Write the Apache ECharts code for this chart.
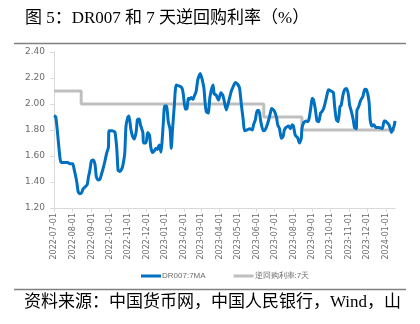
<!DOCTYPE html>
<html><head><meta charset="utf-8">
<script src="https://cdn.jsdelivr.net/npm/echarts@6/dist/echarts.min.js"></script>
<style>html,body{margin:0;padding:0;background:#fff}#c{width:420px;height:324px}</style>
</head><body><div id="c"></div>
<script>
const titleText = '图 5：DR007 和 7 天逆回购利率（%）';
const sourceText = '资料来源：中国货币网，中国人民银行，Wind，山';
const seriesNames = ['DR007:7MA', '逆回购利率:7天'];
const startDate = '2022-07-01';
const endDate = '2024-01-16';
const yTicks = [1.20, 1.40, 1.60, 1.80, 2.00, 2.20, 2.40];

const drDates = ['2022-07-01','2022-07-04','2022-07-08','2022-07-11','2022-07-13','2022-07-16','2022-07-22','2022-07-24','2022-07-27','2022-08-01',
'2022-08-03','2022-08-06','2022-08-08','2022-08-10','2022-08-13','2022-08-16','2022-08-18','2022-08-21','2022-08-25','2022-08-27',
'2022-08-29','2022-09-01','2022-09-04','2022-09-07','2022-09-09','2022-09-12','2022-09-15','2022-09-18','2022-09-20','2022-09-23',
'2022-09-26','2022-09-29','2022-09-30','2022-10-04','2022-10-08','2022-10-10','2022-10-13','2022-10-15','2022-10-18','2022-10-21',
'2022-10-23','2022-10-26','2022-10-28','2022-10-31','2022-11-02','2022-11-05','2022-11-08','2022-11-11','2022-11-14','2022-11-16',
'2022-11-19','2022-11-21','2022-11-25','2022-11-26','2022-11-30','2022-12-03','2022-12-06','2022-12-08','2022-12-11','2022-12-14',
'2022-12-17','2022-12-19','2022-12-22','2022-12-25','2022-12-27','2022-12-29','2022-12-31','2023-01-03','2023-01-06','2023-01-09',
'2023-01-11','2023-01-13','2023-01-16','2023-01-19','2023-01-23','2023-01-26','2023-01-29','2023-01-31','2023-02-03','2023-02-06',
'2023-02-08','2023-02-10','2023-02-13','2023-02-16','2023-02-18','2023-02-21','2023-02-24','2023-02-28','2023-03-03','2023-03-06',
'2023-03-08','2023-03-10','2023-03-13','2023-03-16','2023-03-21','2023-03-23','2023-03-26','2023-03-30','2023-04-03','2023-04-06',
'2023-04-08','2023-04-12','2023-04-16','2023-04-20','2023-04-23','2023-04-27','2023-05-01','2023-05-04','2023-05-07','2023-05-10',
'2023-05-12','2023-05-16','2023-05-21','2023-05-25','2023-05-27','2023-05-30','2023-06-02','2023-06-05','2023-06-08','2023-06-12',
'2023-06-15','2023-06-18','2023-06-21','2023-06-24','2023-06-26','2023-06-30','2023-07-04','2023-07-06','2023-07-09','2023-07-12',
'2023-07-15','2023-07-17','2023-07-20','2023-07-24','2023-07-27','2023-07-30','2023-08-01','2023-08-04','2023-08-08','2023-08-11',
'2023-08-14','2023-08-15','2023-08-18','2023-08-22','2023-08-25','2023-08-27','2023-08-30','2023-09-01','2023-09-03','2023-09-06',
'2023-09-09','2023-09-12','2023-09-15','2023-09-17','2023-09-20','2023-09-23','2023-09-26','2023-09-28','2023-10-02','2023-10-06',
'2023-10-08','2023-10-11','2023-10-14','2023-10-17','2023-10-19','2023-10-22','2023-10-25','2023-10-28','2023-10-31','2023-11-02',
'2023-11-05','2023-11-08','2023-11-10','2023-11-13','2023-11-14','2023-11-17','2023-11-20','2023-11-24','2023-11-27','2023-11-30',
'2023-12-04','2023-12-06','2023-12-09','2023-12-12','2023-12-15','2023-12-18','2023-12-20','2023-12-26','2023-12-29','2023-12-31',
'2024-01-03','2024-01-06','2024-01-09','2024-01-10','2024-01-12','2024-01-15','2024-01-16'];
const drValues = [1.91,1.90,1.72,1.58,1.55,1.55,1.55,1.55,1.54,1.54,
1.505,1.44,1.39,1.325,1.31,1.32,1.346,1.36,1.38,1.44,
1.48,1.564,1.57,1.53,1.44,1.415,1.42,1.467,1.50,1.556,
1.62,1.667,1.795,1.795,1.79,1.78,1.646,1.49,1.48,1.50,
1.53,1.62,1.825,1.897,1.908,1.81,1.75,1.73,1.79,1.88,
1.885,1.84,1.78,1.70,1.70,1.78,1.76,1.67,1.627,1.64,
1.66,1.65,1.685,1.63,1.728,1.87,1.985,1.985,1.864,1.805,
1.66,1.80,1.99,2.146,2.14,2.135,2.12,2.07,1.96,1.965,
2.044,2.035,2.05,2.035,2.06,2.095,2.19,2.235,2.19,2.12,
2.005,1.94,1.93,2.056,2.146,2.077,2.07,2.03,2.087,2.07,
2.035,1.954,2.02,2.095,2.13,2.165,2.15,2.12,1.99,1.877,
1.795,1.80,1.81,1.80,1.84,1.877,1.95,1.95,1.864,1.795,
1.80,1.83,1.877,1.933,1.965,1.95,1.897,1.84,1.81,1.736,
1.75,1.80,1.82,1.83,1.81,1.84,1.83,1.76,1.74,1.70,
1.736,1.81,1.856,1.87,1.864,1.89,1.98,2.044,2.035,1.967,
1.87,1.864,1.933,1.94,1.965,2.018,2.08,2.11,2.10,2.09,
1.99,1.88,1.864,1.98,1.99,2.07,2.113,2.12,2.07,1.99,
1.94,1.877,1.82,1.81,1.95,1.98,2.026,2.06,2.113,2.11,
2.02,1.877,1.83,1.84,1.82,1.82,1.82,1.81,1.87,1.87,
1.856,1.84,1.80,1.78,1.80,1.84,1.87];

const rrDates = ['2022-07-01','2022-08-15','2023-06-13','2023-08-15','2024-01-16'];
const rrValues = [2.10, 2.00, 1.90, 1.80, 1.80];

// daily category axis
const categories = [];
{
  let d = new Date(startDate + 'T00:00:00Z');
  const e = new Date(endDate + 'T00:00:00Z');
  while (d <= e) { categories.push(d.toISOString().slice(0, 10)); d = new Date(d.getTime() + 86400000); }
}
const isMonthStart = (i, v) => String(v).endsWith('-01');

const chart = echarts.init(document.getElementById('c'), null, {renderer: 'canvas'});
const gray = '#6b6b6b';
chart.setOption({
  animation: false,
  backgroundColor: '#fff',
  grid: {left: 54, right: 25, top: 52, bottom: 116, containLabel: false},
  xAxis: {
    type: 'category', data: categories, boundaryGap: false,
    axisLine: {lineStyle: {color: '#D9D9D9', width: 1}},
    axisTick: {show: true, interval: isMonthStart, length: 4, lineStyle: {color: '#D9D9D9'}},
    axisLabel: {interval: isMonthStart, rotate: 90, fontSize: 8, color: gray, margin: 5, fontFamily: 'DejaVu Sans'},
    splitLine: {show: false}
  },
  yAxis: {
    type: 'value', min: yTicks[0], max: yTicks[yTicks.length - 1], interval: 0.2,
    axisLine: {show: true, lineStyle: {color: '#D9D9D9'}},
    axisTick: {show: true, length: 4, lineStyle: {color: '#D9D9D9'}},
    axisLabel: {formatter: v => v.toFixed(2), fontSize: 9, color: gray, margin: 9, fontFamily: 'DejaVu Sans'},
    splitLine: {show: false}
  },
  legend: {
    left: 136, top: 267, itemWidth: 20, itemHeight: 3, itemGap: 28, icon: 'rect',
    textStyle: {fontSize: 8, color: gray, padding: [0, 0, 0, -4]},
    data: seriesNames
  },
  series: [
    {name: seriesNames[0], type: 'line', symbol: 'none', smooth: 0.2,
     data: drDates.map((d, i) => [d, drValues[i]]),
     lineStyle: {color: '#0070C0', width: 3}, itemStyle: {color: '#0070C0'}, z: 3},
    {name: seriesNames[1], type: 'line', symbol: 'none', step: 'end',
     data: rrDates.map((d, i) => [d, rrValues[i]]),
     lineStyle: {color: '#BFBFBF', width: 3}, itemStyle: {color: '#BFBFBF'}, z: 2}
  ],
  graphic: [
    {type: 'text', left: 25, top: 10, style: {text: titleText, font: '17px "Liberation Serif", "Noto Sans CJK SC"', fill: '#000'}},
    {type: 'line', shape: {x1: 14, y1: 43.5, x2: 406, y2: 43.5}, style: {stroke: '#808080', lineWidth: 1.5}},
    {type: 'line', shape: {x1: 14, y1: 289.5, x2: 406, y2: 289.5}, style: {stroke: '#808080', lineWidth: 1.5}},
    {type: 'text', left: 24, top: 294, style: {text: sourceText, font: '17px "Liberation Serif", "Noto Sans CJK SC"', fill: '#000'}}
  ]
});
</script></body></html>
